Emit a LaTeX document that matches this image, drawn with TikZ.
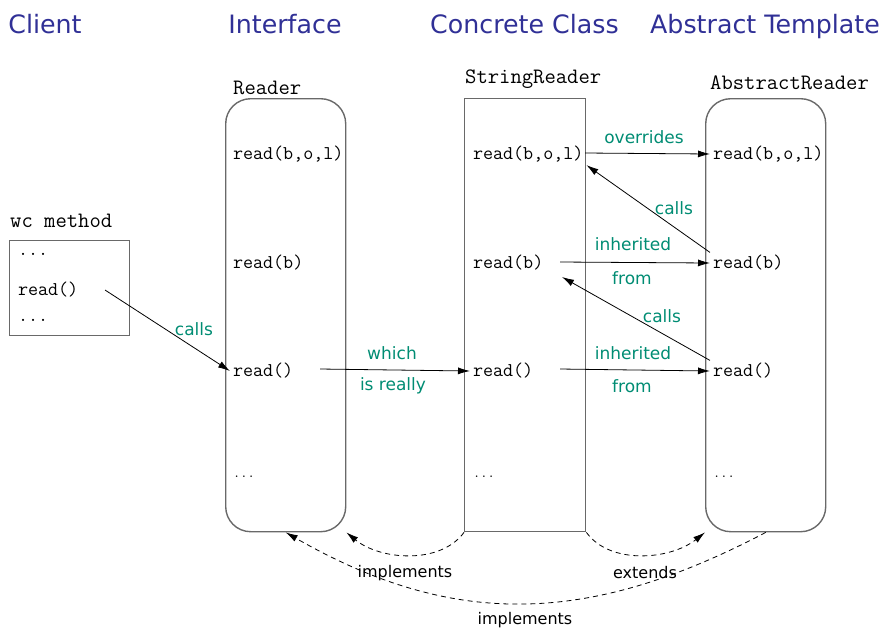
\documentclass[tikz,border=0pt]{standalone}
\usepackage{fontspec}
\newfontfamily\comic{DejaVu Sans}
\usetikzlibrary{arrows.meta}
\definecolor{headblue}{RGB}{48,48,150}
\definecolor{labgreen}{RGB}{0,140,115}
\definecolor{boxgray}{RGB}{105,105,105}
\begin{document}
\begin{tikzpicture}[x=1pt,y=-1pt,
 head/.style={font=\comic\fontsize{25.3}{27}\selectfont, text=headblue, anchor=base, inner sep=0},
 title/.style={font=\ttfamily\fontsize{22}{24}\selectfont, anchor=west, inner sep=0},
 item/.style={font=\ttfamily\fontsize{19.5}{21}\selectfont, anchor=west, inner sep=0, outer sep=3pt},
 dotsitem/.style={font=\ttfamily\fontsize{14}{16}\selectfont, anchor=west, inner sep=0},
 glab/.style={font=\comic\fontsize{17}{19}\selectfont, text=labgreen, inner sep=0},
 blab/.style={font=\comic\fontsize{16}{18}\selectfont, inner sep=0},
 box/.style={draw=boxgray, line width=1.4pt, anchor=north west, inner sep=0},
 arr/.style={draw=black, line width=0.8pt, -{Latex[length=12pt,width=7pt]}},
 darr/.style={arr, dash pattern=on 5pt off 4pt}]
\useasboundingbox (0,0) rectangle (885,630);

% headers
\node[head] (hclient) at (45,33) {Client};
\node[head] (hiface) at (285,33) {Interface};
\node[head] (hconc) at (524.5,33) {Concrete Class};
\node[head] (habs) at (765,33) {Abstract Template};

% boxes
\node[box, minimum width=120pt, minimum height=95pt] (wcbox) at (9,240) {};
\node[box, rounded corners=25pt, minimum width=120pt, minimum height=433pt] (readerbox) at (225,98) {};
\node[box, minimum width=121pt, minimum height=433pt] (srbox) at (464,98) {};
\node[box, rounded corners=25pt, minimum width=120pt, minimum height=433pt] (arbox) at (705,98) {};

% titles
\node[title] (twc) at (10,221) {wc method};
\node[title] (treader) at (233,88) {Reader};
\node[title] (tsr) at (465,79) {StringReader};
\node[title] (tar) at (710,83) {AbstractReader};

% wc contents
\node[item] (wcd1) at (15,254) {...};
\node[item] (wcrd) at (15,290) {read()};
\node[item] (wcd2) at (15,320) {...};

% Reader contents
\node[item] (rblo) at (230,154) {read(b,o,l)};
\node[item] (rbd) at (230,263) {read(b)};
\node[item] (rrd) at (230,371) {read()};
\node[dotsitem] (rdots) at (233,477) {...};

% StringReader contents
\node[item] (sblo) at (470,154) {read(b,o,l)};
\node[item] (sbd) at (470,263) {read(b)};
\node[item] (srd) at (470,371) {read()};
\node[dotsitem] (sdots) at (473,477) {...};

% AbstractReader contents
\node[item] (ablo) at (710,154) {read(b,o,l)};
\node[item] (abd) at (710,263) {read(b)};
\node[item] (ard) at (710,371) {read()};
\node[dotsitem] (adots) at (713,477) {...};

% free ends
\coordinate (c1) at (105,290);
\coordinate (c2) at (320,369);
\coordinate (c3) at (585,153);
\coordinate (c5) at (560,262);
\coordinate (c6) at (562,277);
\coordinate (c7) at (560,369);

% arrows
\draw[arr] (c1) -- (rrd.west);
\draw[arr] (c2) -- (srd.west);
\draw[arr] (c3) -- (ablo.west);
\draw[arr] (abd.north west) -- (sblo.south east);
\draw[arr] (c5) -- (abd.west);
\draw[arr] (ard.north west) -- (c6);
\draw[arr] (c7) -- (ard.west);

% green labels
\node[glab] (loverr) at (644,137) {overrides};
\node[glab] (lcalls1) at (674,208) {calls};
\node[glab] (linh1) at (633,244) {inherited};
\node[glab] (lfrom1) at (632,278) {from};
\node[glab] (lcalls2) at (662,316) {calls};
\node[glab] (linh2) at (633,353) {inherited};
\node[glab] (lfrom2) at (632,386) {from};
\node[glab] (lwhich) at (392,353) {which};
\node[glab] (lreally) at (393,386) {is really};
\node[glab] (lcalls0) at (194,329) {calls};

% dashed relations
\draw[darr] (srbox.south west) .. controls (440,565) and (380,560) .. (readerbox.south east);
\draw[darr] (srbox.south east) .. controls (610,565) and (670,560) .. (arbox.south west);
\draw[darr] (arbox.south) .. controls (586,627) and (451,627) .. (readerbox.south);

\node[blab] (limp1) at (405,573) {implements};
\node[blab] (lext) at (645,573) {extends};
\node[blab] (limp2) at (525,620) {implements};
\end{tikzpicture}
\end{document}
